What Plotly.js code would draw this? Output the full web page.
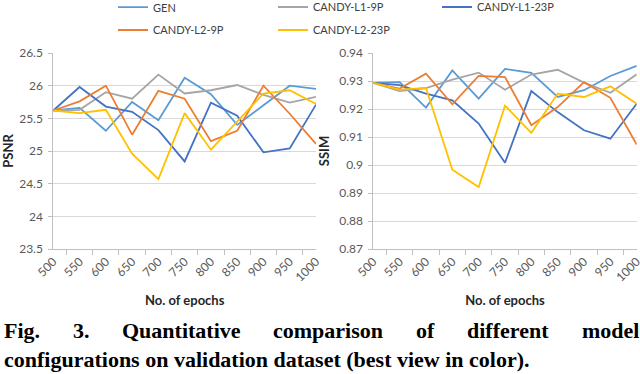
<!DOCTYPE html>
<html>
<head>
<meta charset="utf-8">
<script src="https://cdn.plot.ly/plotly-3.0.1.min.js"></script>
<style>
  html, body { margin: 0; padding: 0; background: #fff; }
  #chart { width: 640px; height: 374px; }
</style>
</head>
<body>
<div id="chart"></div>
<script>
// epochs on the x axis (category axis)
const epochs = ['500', '550', '600', '650', '700', '750', '800', '850', '900', '950', '1000'];

// PSNR per model configuration (left panel)
const psnr_gen    = [25.62, 25.66, 25.31, 25.75, 25.47, 26.12, 25.87, 25.40, 25.70, 26.00, 25.95];
const psnr_l1_9p  = [25.62, 25.63, 25.90, 25.80, 26.17, 25.88, 25.93, 26.01, 25.86, 25.74, 25.83];
const psnr_l1_23p = [25.62, 25.98, 25.68, 25.60, 25.32, 24.84, 25.74, 25.54, 24.98, 25.04, 25.71];
const psnr_l2_9p  = [25.62, 25.76, 26.00, 25.25, 25.92, 25.80, 25.15, 25.31, 26.00, 25.57, 25.11];
const psnr_l2_23p = [25.62, 25.58, 25.63, 24.96, 24.57, 25.58, 25.02, 25.45, 25.88, 25.93, 25.72];

// SSIM per model configuration (right panel)
const ssim_gen    = [0.9293, 0.9296, 0.9205, 0.9338, 0.9237, 0.9343, 0.9329, 0.9243, 0.9267, 0.9318, 0.9354];
const ssim_l1_9p  = [0.9293, 0.9264, 0.9275, 0.9305, 0.9330, 0.9269, 0.9323, 0.9340, 0.9294, 0.9258, 0.9324];
const ssim_l1_23p = [0.9293, 0.9285, 0.9255, 0.9231, 0.9148, 0.9008, 0.9264, 0.9189, 0.9124, 0.9094, 0.9219];
const ssim_l2_9p  = [0.9293, 0.9273, 0.9326, 0.9217, 0.9318, 0.9314, 0.9142, 0.9207, 0.9296, 0.9240, 0.9073];
const ssim_l2_23p = [0.9293, 0.9269, 0.9275, 0.8983, 0.8921, 0.9212, 0.9115, 0.9255, 0.9243, 0.9281, 0.9219];

const names  = ['GEN', 'CANDY-L1-9P', 'CANDY-L1-23P', 'CANDY-L2-9P', 'CANDY-L2-23P'];
const colors = ['#5B9BD5', '#A5A5A5', '#4472C4', '#ED7D31', '#FFC000'];
const psnrSeries = [psnr_gen, psnr_l1_9p, psnr_l1_23p, psnr_l2_9p, psnr_l2_23p];
const ssimSeries = [ssim_gen, ssim_l1_9p, ssim_l1_23p, ssim_l2_9p, ssim_l2_23p];

// one small legend per entry so the 3 + 2 grid sits like the original
const legendIds = ['legend', 'legend2', 'legend3', 'legend4', 'legend5'];
const legendSpot = [[123, 7], [283, 7], [447, 7], [123, 30], [283, 30]]; //line start x, text centre y (px)

const tickFont = {family: 'Lato, "Open Sans", sans-serif', size: 12, color: '#595959'};
const titleFont = {family: 'Lato, "Open Sans", sans-serif', size: 13, color: '#262626', weight: 'bold'};

let traces = [];
for (let i = 0; i < names.length; i++) {
    traces.push({
        x: epochs, y: psnrSeries[i], xaxis: 'x', yaxis: 'y',
        type: 'scatter', mode: 'lines', name: names[i],
        line: {color: colors[i], width: 1.8},
        legend: legendIds[i], showlegend: true, hoverinfo: 'skip'
    });
    traces.push({
        x: epochs, y: ssimSeries[i], xaxis: 'x2', yaxis: 'y2',
        type: 'scatter', mode: 'lines', name: names[i],
        line: {color: colors[i], width: 1.8},
        showlegend: false, hoverinfo: 'skip'
    });
}

function xAxis(domain, anchor) {
    return {
        domain: domain, anchor: anchor, type: 'category',
        showgrid: false, showline: true, linecolor: '#BFBFBF', linewidth: 1,
        ticks: 'outside', tickson: 'boundaries', ticklen: 5, tickcolor: '#BFBFBF',
        tickangle: -45, tickfont: tickFont,
        title: {text: 'No. of epochs', font: titleFont, standoff: 12},
        fixedrange: true
    };
}
function yAxis(anchor, range, dtick, name) {
    return {
        anchor: anchor, range: range, dtick: dtick,
        showgrid: true, gridcolor: '#D9D9D9', gridwidth: 1,
        showline: true, linecolor: '#BFBFBF', linewidth: 1,
        ticks: 'outside', ticklen: 4, tickcolor: '#BFBFBF',
        tickfont: tickFont, zeroline: false, ticklabelstandoff: 3,
        title: {text: name, font: titleFont, standoff: 6},
        fixedrange: true
    };
}

const W = 640, plotTop = 53, plotBottom = 125, plotH = 374 - plotTop - plotBottom;
const toPaperY = py => (374 - plotBottom - py) / plotH;

// caption under the figure, first line justified to full width
const capSize = 22;
const capFont = {family: '"Liberation Serif", "Times New Roman", serif', size: capSize, color: '#000', weight: 'bold'};
const capWords = ['Fig.', '3.', 'Quantitative', 'comparison', 'of', 'different', 'model'];
const ctx = document.createElement('canvas').getContext('2d');
ctx.font = 'bold ' + capSize + 'px "Liberation Serif"';
const wordW = capWords.map(w => ctx.measureText(w).width);
const gap = (637 - 2 - wordW.reduce((a, b) => a + b, 0)) / (capWords.length - 1);

let annotations = [];
let cx = 2;
capWords.forEach((w, i) => {
    annotations.push({
        text: w, xref: 'paper', yref: 'paper', x: cx / W, y: toPaperY(345),
        xanchor: 'left', yanchor: 'bottom', showarrow: false, font: capFont
    });
    cx += wordW[i] + gap;
});
annotations.push({
    text: 'configurations on validation dataset (best view in color).',
    xref: 'paper', yref: 'paper', x: 2 / W, y: toPaperY(374),
    xanchor: 'left', yanchor: 'bottom', showarrow: false, font: capFont
});

const layout = {
    width: 640, height: 374,
    margin: {l: 0, r: 0, t: plotTop, b: plotBottom, autoexpand: false},
    paper_bgcolor: '#fff', plot_bgcolor: '#fff',
    xaxis: xAxis([53.3 / W, 316 / W], 'y'),
    yaxis: yAxis('x', [23.5, 26.5], 0.5, 'PSNR'),
    xaxis2: xAxis([373.3 / W, 636.7 / W], 'y2'),
    yaxis2: yAxis('x2', [0.87, 0.94], 0.01, 'SSIM'),
    annotations: annotations,
    showlegend: true
};
legendIds.forEach((id, i) => {
    layout[id] = {
        x: (legendSpot[i][0] - 10) / W, y: toPaperY(legendSpot[i][1]),
        xanchor: 'left', yanchor: 'middle', orientation: 'h',
        font: {family: 'Lato, "Open Sans", sans-serif', size: 11, color: '#404040'},
        bgcolor: 'rgba(0,0,0,0)', borderwidth: 0
    };
});

Plotly.newPlot('chart', traces, layout, {staticPlot: true, displayModeBar: false}).then(gd => {
    //plotly keeps legend boxes inside the figure, so nudge each row to its text centre
    const top = gd.getBoundingClientRect().top;
    legendIds.forEach((id, i) => {
        const g = gd.querySelector('g.' + id);
        if (!g) return;
        const txt = g.querySelector('.legendtext');
        if (!txt) return;
        const r = txt.getBoundingClientRect();
        const dy = legendSpot[i][1] - (r.top - top + r.height / 2);
        const m = /translate\(\s*([-\d.]+)[ ,]+([-\d.]+)\s*\)/.exec(g.getAttribute('transform') || '');
        if (m) g.setAttribute('transform', 'translate(' + m[1] + ',' + (parseFloat(m[2]) + dy) + ')');
    });
});
</script>
</body>
</html>
